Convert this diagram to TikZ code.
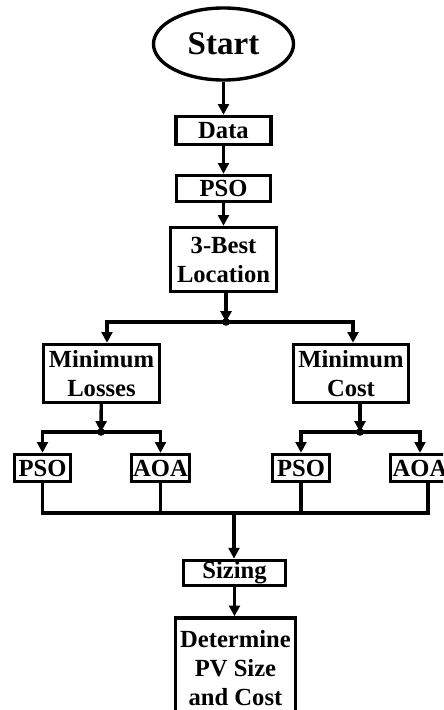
\documentclass[tikz,border=0pt]{standalone}
\usepackage{fontspec}
\setmainfont{Liberation Serif}
\usetikzlibrary{arrows.meta,shapes.geometric}

\tikzset{
  box/.style={draw, line width=2.4pt, inner sep=1pt, align=center,
    font=\bfseries\fontsize{17.5}{20.6}\selectfont},
  oval/.style={ellipse, draw, line width=2.4pt, inner sep=1pt,
    font=\bfseries\fontsize{23.5}{26}\selectfont},
  wire/.style={line width=2.4pt},
  flow/.style={line width=2.4pt, -{Triangle[length=0.27cm,width=0.27cm]}},
}

\begin{document}
\begin{tikzpicture}[x=0.025cm, y=-0.025cm]
  \useasboundingbox (0,0) rectangle (443,710);
  \clip (0,0) rectangle (443,710);

  % upper chain
  \node[oval, minimum width=3.5cm, minimum height=1.8cm] (start) at (223.5,44) {Start};
  \node[box, minimum width=2.375cm, minimum height=0.7cm] (data) at (223.5,130.5) {Data};
  \node[box, minimum width=2.35cm, minimum height=0.65cm] (pso) at (223.5,188.5) {PSO};
  \node[box, minimum width=2.65cm, minimum height=1.6cm] (best) at (223.5,259.5) {3-Best\\Location};

  % objectives
  \node[box, minimum width=2.9cm, minimum height=1.45cm] (losses) at (101.5,373.5) {Minimum\\Losses};
  \node[box, minimum width=2.875cm, minimum height=1.45cm] (cost) at (351,373.5) {Minimum\\Cost};

  % algorithms
  \node[box, minimum width=1.4cm, minimum height=0.675cm] (psoL) at (42.5,468) {PSO};
  \node[box, minimum width=1.45cm, minimum height=0.675cm] (aoaL) at (160.5,468) {AOA};
  \node[box, minimum width=1.425cm, minimum height=0.675cm] (psoC) at (301,468) {PSO};
  \node[box, minimum width=1.475cm, minimum height=0.675cm] (aoaC) at (420,468) {AOA};

  % lower chain
  \node[box, minimum width=2.55cm, minimum height=0.625cm] (sizing) at (234.5,573) {Sizing};
  \node[box, minimum width=3cm, minimum height=2.5cm] (determine) at (235.5,668) {Determine\\PV Size\\and Cost};

  % junctions
  \coordinate (j1) at (226,322);
  \coordinate (jl) at (107,322);
  \coordinate (jr) at (353,322);
  \coordinate (j2) at (101,432);
  \coordinate (j3) at (360,432);
  \coordinate (bus) at (234,513);
  \coordinate (busR) at (428,513);

  \draw[flow] (start) -- (data);
  \draw[flow] (data) -- (pso);
  \draw[flow] (pso) -- (best);

  \draw[flow] (best.south -| j1) -- (j1);
  \draw[flow] (j1) -| (jl |- losses.north);
  \draw[flow] (j1) -| (jr |- cost.north);
  \fill (j1) circle (0.095cm);

  \draw[flow] (losses) -- (j2);
  \draw[flow] (j2) -| (psoL);
  \draw[flow] (j2) -| (aoaL);
  \fill (j2) circle (0.095cm);

  \draw[flow] (cost.south -| j3) -- (j3);
  \draw[flow] (j3) -| (psoC);
  \draw[flow] (j3) -| (aoaC);
  \fill (j3) circle (0.095cm);

  % collecting line
  \draw[wire] (psoL) |- (busR) -- (busR |- aoaC.south);
  \draw[wire] (aoaL) -- (aoaL |- bus);
  \draw[wire] (psoC) -- (psoC |- bus);
  \draw[flow] (bus) -- (bus |- sizing.north);
  \draw[flow] (sizing.south) -- (sizing.south |- determine.north);
\end{tikzpicture}
\end{document}
